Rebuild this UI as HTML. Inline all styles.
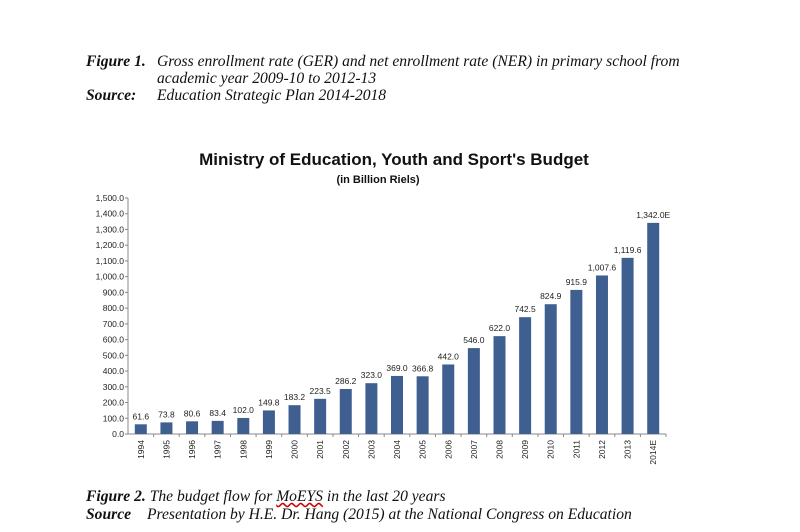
<!DOCTYPE html>
<html><head><meta charset="utf-8"><style>
body{margin:0;width:800px;height:532px;background:#fff;overflow:hidden;position:relative;font-family:"Liberation Serif",serif}
.cap{position:absolute;font-size:15.6px;font-style:italic;color:#111;white-space:nowrap;line-height:17px}
.cap b{font-weight:bold}
</style></head><body>
<div class="cap" style="left:86px;top:53px"><b>Figure 1.</b></div>
<div class="cap" style="left:157px;top:53px">Gross enrollment rate (GER) and net enrollment rate (NER) in primary school from<br>academic year 2009-10 to 2012-13</div>
<div class="cap" style="left:86px;top:87px"><b>Source:</b></div>
<div class="cap" style="left:157px;top:87px">Education Strategic Plan 2014-2018</div>
<svg id="chart" width="800" height="532" style="position:absolute;left:0;top:0;font-family:'Liberation Sans',sans-serif">
<text x="394" y="165" text-anchor="middle" font-size="17" font-weight="bold" fill="#111">Ministry of Education, Youth and Sport's Budget</text>
<text x="378" y="183" text-anchor="middle" font-size="11" font-weight="bold" fill="#111">(in Billion Riels)</text>
</svg>
<div class="cap" style="left:86px;top:488px"><b>Figure 2.</b> The budget flow for <span style="text-decoration:underline wavy #c00">MoEYS</span> in the last 20 years</div>
<div class="cap" style="left:86px;top:506px"><b>Source</b><span style="position:absolute;left:61px">Presentation by H.E. Dr. Hang (2015) at the National Congress on Education</span></div>
<script>
const categories=["1994","1995","1996","1997","1998","1999","2000","2001","2002","2003","2004","2005","2006","2007","2008","2009","2010","2011","2012","2013","2014E"];
const values=[61.6,73.8,80.6,83.4,102.0,149.8,183.2,223.5,286.2,323.0,369.0,366.8,442.0,546.0,622.0,742.5,824.9,915.9,1007.6,1119.6,1342.0];
const labels=["61.6","73.8","80.6","83.4","102.0","149.8","183.2","223.5","286.2","323.0","369.0","366.8","442.0","546.0","622.0","742.5","824.9","915.9","1,007.6","1,119.6","1,342.0E"];
const yTicks=[0,100,200,300,400,500,600,700,800,900,1000,1100,1200,1300,1400,1500];
const NS="http://www.w3.org/2000/svg";
const svg=document.getElementById('chart');
const x0=128,bw=25.62,y0=434,yMax=1500,yTop=198;
const y=v=>y0-(v/yMax)*(y0-yTop);
const x=i=>x0+bw*(i+0.5);
function mk(t,a){const e=document.createElementNS(NS,t);for(const k in a)e.setAttribute(k,a[k]);svg.appendChild(e);return e;}
let ax=mk('line',{x1:x0,y1:yTop,x2:x0,y2:y0,stroke:'#888','stroke-width':1});


let bx=mk('line',{x1:x0,y1:y0,x2:x0+bw*categories.length,y2:y0,stroke:'#888','stroke-width':1});


yTicks.forEach(t=>{
 const e=mk('text',{x:x0-4,y:y(t)+3,'text-anchor':'end','font-size':'8.5',fill:'#222'});
 e.textContent=t.toLocaleString('en-US',{minimumFractionDigits:1,maximumFractionDigits:1});
 
 
 mk('line',{x1:x0-3,y1:y(t),x2:x0,y2:y(t),stroke:'#888'});
});
categories.forEach((c,i)=>{
 mk('line',{x1:x0+bw*(i+1),y1:y0,x2:x0+bw*(i+1),y2:y0+3,stroke:'#888'});
 const r=mk('rect',{x:x(i)-6,y:y(values[i]),width:12,height:y0-y(values[i]),fill:'#3f5f91'});
 
 
 const l=mk('text',{x:x(i),y:y(values[i])-5,'text-anchor':'middle','font-size':'8.5',fill:'#222'});
 l.textContent=labels[i];
 
 
 const t=mk('text',{transform:`translate(${x(i)+3},${y0+6}) rotate(-90)`,'text-anchor':'end','font-size':'8.5',fill:'#222'});
 t.textContent=c;
 
 
});
</script>
</body></html>
